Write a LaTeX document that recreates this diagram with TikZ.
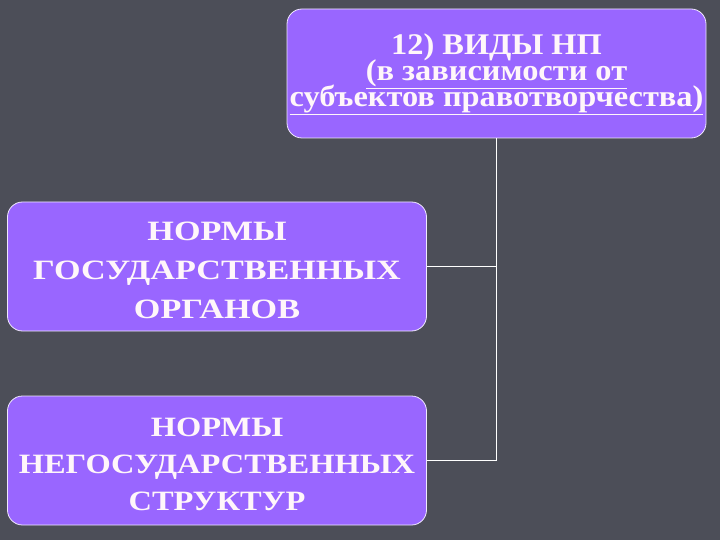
\documentclass[tikz,border=0pt]{standalone}
\usepackage{fontspec}
\setmainfont{Liberation Serif}
\newfontfamily\widefont[FakeStretch=1.22]{Liberation Serif}
\newfontfamily\semiwidefont[FakeStretch=1.16]{Liberation Serif}
\newfontfamily\slightwidefont[FakeStretch=1.08]{Liberation Serif}
\newcommand\tightlines{\setlength{\lineskiplimit}{-30pt}\setlength{\lineskip}{0pt}}
\definecolor{bgc}{HTML}{4C4E58}
\definecolor{boxc}{HTML}{9966FF}
\definecolor{txtc}{HTML}{FFF6FA}
\tikzset{
  box/.style={draw=white!85!boxc, line width=0.8pt, fill=boxc, rounded corners=15pt, inner sep=0pt, minimum width=419pt, minimum height=129pt},
  boxtext/.style={text=txtc, align=center, inner sep=0pt},
  link/.style={draw=white, line width=1.5pt}
}
\begin{document}
\begin{tikzpicture}[x=1pt,y=-1pt]
\fill[bgc] (0,0) rectangle (720,540);
\useasboundingbox (0,0) rectangle (720,540);
\node[box] (top) at (496.5,73.5) {};
\node[box] (b2) at (217,266.5) {};
\node[box] (b3) at (217,460.5) {};
\node[boxtext, yshift=-1pt, font={\tightlines\slightwidefont\bfseries\fontsize{30}{26}\selectfont}] (toptext) at (top.center)
  {12) ВИДЫ НП\\
   \underline{(в зависимости от}\\
   \underline{субъектов правотворчества)}};
\node[boxtext, yshift=-3.5pt, font={\widefont\bfseries\fontsize{28}{39}\selectfont}] (b2text) at (b2.center)
  {НОРМЫ\\ГОСУДАРСТВЕННЫХ\\ОРГАНОВ};
\node[boxtext, yshift=-3.5pt, font={\semiwidefont\bfseries\fontsize{28}{37}\selectfont}] (b3text) at (b3.center)
  {НОРМЫ\\НЕГОСУДАРСТВЕННЫХ\\СТРУКТУР};
\draw[link] (top.south) -- (top.south |- b3.east) -- (b3.east);
\draw[link] (b2.east) -- (b2.east -| top.south);
\end{tikzpicture}
\end{document}
